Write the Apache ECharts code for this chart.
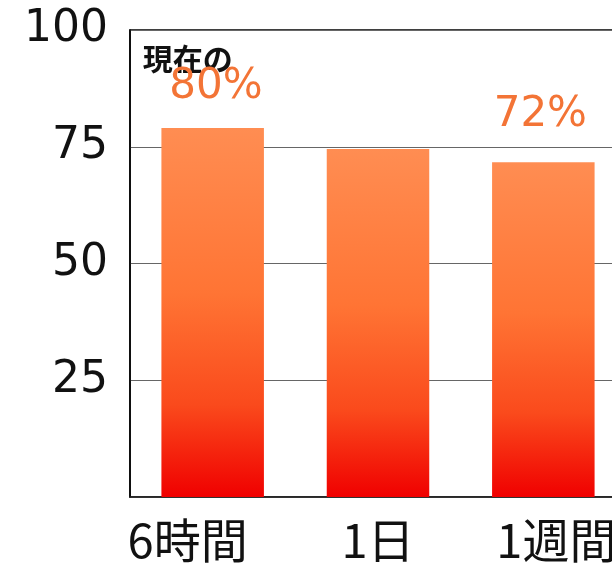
<!DOCTYPE html>
<html>
<head>
<meta charset="utf-8">
<script src="https://cdn.jsdelivr.net/npm/echarts@6/dist/echarts.min.js"></script>
<style>
html,body{margin:0;padding:0;background:#fff;}
#c{width:612px;height:570px;}
</style>
</head>
<body>
<div id="c"></div>
<script>
const categories = ['6時間', '1日', '1週間'];
const values = [79, 74.5, 71.7];
const valueLabels = ['80%', '', '72%'];
const labelPrefix = ['現在の', '', ''];
const yTicks = [0, 25, 50, 75, 100];

const barGradient = {
  type: 'linear', x: 0, y: 0, x2: 0, y2: 1,
  colorStops: [
    {offset: 0, color: '#ff8d52'},
    {offset: 0.45, color: '#ff7434'},
    {offset: 0.75, color: '#fa4a1c'},
    {offset: 1, color: '#f00000'}
  ]
};

const labelStyles = [
  {distance: 26, offset: [-10, 0]},
  {distance: 30, offset: [0, 0]},
  {distance: 32, offset: [-3, 0]}
];

const data = values.map((v, i) => {
  const item = {value: v};
  if (!valueLabels[i]) {
    item.label = {show: false};
  } else {
    const txt = labelPrefix[i]
      ? '{a|' + labelPrefix[i] + '}\n{b|' + valueLabels[i] + '}'
      : '{b|' + valueLabels[i] + '}';
    item.label = {
      show: true,
      position: 'top',
      distance: labelStyles[i].distance,
      offset: labelStyles[i].offset,
      formatter: txt
    };
  }
  return item;
});

const catFont = {fontFamily: 'Noto Sans CJK JP', fontSize: 47, color: '#111', lineHeight: 50};
const catPads = [[0, 50, 0, 0], [0, 0, 0, 0], [0, 0, 0, 26]];
const catRich = {};
catPads.forEach((p, i) => { catRich['c' + i] = Object.assign({padding: p}, catFont); });

const chart = echarts.init(document.getElementById('c'));
chart.setOption({
  animation: false,
  backgroundColor: '#fff',
  grid: {
    left: 130, top: 30, bottom: 73, width: 496,
    outerBoundsMode: 'none',
    containLabel: false,
    show: true, borderColor: '#000', borderWidth: 1.5, backgroundColor: 'transparent'
  },
  xAxis: {
    type: 'category',
    data: categories,
    boundaryGap: true,
    axisLine: {show: true, lineStyle: {color: '#222', width: 1.5}},
    axisTick: {show: false},
    axisLabel: Object.assign({
      margin: 18,
      hideOverlap: false,
      interval: 0,
      formatter: (v, i) => '{c' + i + '|' + v + '}',
      rich: catRich
    }, catFont)
  },
  yAxis: {
    type: 'value',
    min: 0, max: 100, interval: 25,
    axisLine: {show: true, lineStyle: {color: '#000', width: 1.5}},
    axisTick: {show: false},
    splitLine: {show: true, lineStyle: {color: '#666', width: 1}},
    axisLabel: {
      margin: 22,
      fontFamily: 'DejaVu Sans',
      fontSize: 44,
      color: '#111',
      formatter: v => (v === 0 ? '' : String(v))
    }
  },
  series: [{
    type: 'bar',
    data: data,
    barWidth: '62%',
    itemStyle: {color: barGradient},
    label: {
      rich: {
        a: {
          fontFamily: 'Noto Sans CJK JP',
          fontWeight: 'bold',
          fontSize: 30,
          color: '#111',
          lineHeight: 26,
          align: 'left',
          padding: [0, 30, 0, 0]
        },
        b: {
          fontFamily: 'DejaVu Sans',
          fontSize: 42,
          color: '#f37436',
          lineHeight: 30,
          align: 'right'
        }
      }
    }
  }]
});
</script>
</body>
</html>
